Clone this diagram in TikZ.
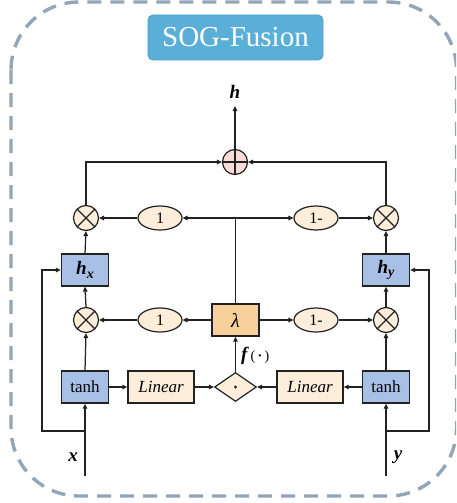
\documentclass[tikz,border=0pt]{standalone}
\usepackage{fontspec}
\setmainfont{Liberation Serif}
\usetikzlibrary{arrows.meta,shapes.geometric}

\definecolor{framegray}{HTML}{94A5B8}
\definecolor{titleblue}{HTML}{5AAFD8}
\definecolor{titleedge}{HTML}{4A9CC6}
\definecolor{cream}{HTML}{FCEEDA}
\definecolor{lambdaorange}{HTML}{F8D099}
\definecolor{boxblue}{HTML}{A8C0E6}
\definecolor{pluspink}{HTML}{F9DDD6}
\definecolor{edgedark}{HTML}{222222}

\tikzset{
  conn/.style={line width=1.25pt, draw=edgedark},
  arr/.style={conn, -{Triangle[length=5pt,width=4.5pt]}},
  bluebox/.style={draw=edgedark, line width=1.3pt, fill=boxblue, minimum width=47pt, minimum height=32pt, inner sep=0pt},
  linbox/.style={draw=edgedark, line width=1.3pt, fill=cream, minimum width=66pt, minimum height=32pt, inner sep=0pt, font=\fontsize{17}{17}\selectfont\itshape},
  onebubble/.style={ellipse, draw=edgedark, line width=1.2pt, fill=cream, minimum width=44pt, minimum height=24pt, inner sep=0pt, font=\fontsize{16}{16}\selectfont},
  timesop/.style={circle, draw=edgedark, line width=1.2pt, fill=cream, minimum size=25pt, inner sep=0pt,
    path picture={\draw[line width=1.1pt, edgedark] (path picture bounding box.north west) -- (path picture bounding box.south east)
      (path picture bounding box.north east) -- (path picture bounding box.south west);}},
  plusop/.style={circle, draw=edgedark, line width=1.2pt, fill=pluspink, minimum size=25pt, inner sep=0pt,
    path picture={\draw[line width=1.1pt, edgedark] (path picture bounding box.north) -- (path picture bounding box.south)
      (path picture bounding box.east) -- (path picture bounding box.west);}},
  varlabel/.style={font=\fontsize{19}{19}\selectfont\bfseries\itshape, inner sep=0pt}
}

\begin{document}
\begin{tikzpicture}[x=1pt, y=-1pt]
\useasboundingbox (0,0) rectangle (456,503);

% dashed outer frame
\begin{scope}
\clip (0,0) rectangle (456,503);
\draw[framegray, line width=3.4pt, dash pattern=on 14pt off 9pt, rounded corners=68pt]
  (11,2) rectangle (456.5,496);
\end{scope}

% title
\node[draw=titleedge, line width=0.8pt, fill=titleblue, rounded corners=5pt, minimum width=175pt, minimum height=45pt,
      text=white, font=\fontsize{29}{29}\selectfont] (title) at (235.5,37.5) {SOG-Fusion};

% top merge
\node[varlabel] (hlab) at (235,92) {h};
\coordinate (hend) at (235,106);
\node[plusop] (plus) at (235,162) {};

% upper gate row
\node[timesop] (topL) at (86,218) {};
\node[timesop] (topR) at (386,218) {};
\node[onebubble] (e1t) at (160,218) {1};
\node[onebubble] (e2t) at (316,218) {1-};
\coordinate (split) at (235.5,218);

% hidden states
\node[bluebox] (hx) at (85,270) {\fontsize{19}{19}\selectfont\bfseries\itshape h\raisebox{-3.5pt}{\fontsize{14}{14}\selectfont x}};
\node[bluebox] (hy) at (386,270) {\fontsize{19}{19}\selectfont\bfseries\itshape h\raisebox{-3.5pt}{\fontsize{14}{14}\selectfont y}};

% lower gate row
\node[timesop] (botL) at (86,320) {};
\node[timesop] (botR) at (386,320) {};
\node[onebubble] (e1b) at (160,320) {1};
\node[onebubble] (e2b) at (316,320) {1-};
\node[draw=edgedark, line width=1.3pt, fill=lambdaorange, minimum width=47pt, minimum height=32pt, inner sep=0pt,
      font=\fontsize{20}{20}\selectfont\itshape] (lam) at (235.5,320) {λ};

% bottom row
\node[bluebox, font=\fontsize{17}{17}\selectfont] (tanhL) at (85,387) {tanh};
\node[bluebox, font=\fontsize{17}{17}\selectfont] (tanhR) at (386,387) {tanh};
\node[linbox] (linL) at (161,387) {Linear};
\node[linbox] (linR) at (310,387) {Linear};
\node[diamond, draw=edgedark, line width=1.2pt, fill=cream, minimum width=42pt, minimum height=29pt, inner sep=0pt] (dot) at (235.5,387) {};
\fill[edgedark] (dot.center) circle (1.6pt);
\node[inner sep=0pt, anchor=west] (flab) at (241,356) {\fontsize{19}{19}\selectfont\bfseries\itshape f\,\normalfont\fontsize{14}{14}\selectfont(\,\textbf{·}\,)};

% inputs
\node[varlabel] (xlab) at (73,457) {x};
\node[varlabel] (ylab) at (398,457) {y};
\coordinate (xin) at (85,476);
\coordinate (yin) at (386,476);
\coordinate (xbr) at (85,431);
\coordinate (ybr) at (386,431);
\coordinate (xside) at (42,431);
\coordinate (yside) at (429,431);

% input paths
\draw[arr] (xin) -- (tanhL.south);
\draw[arr] (yin) -- (tanhR.south);
\draw[arr] (xbr) -- (xside) |- (hx.west);
\draw[arr] (ybr) -- (yside) |- (hy.east);

% bottom row flow
\draw[arr] (tanhL) -- (linL);
\draw[arr] (linL) -- (dot);
\draw[arr] (tanhR) -- (linR);
\draw[arr] (linR) -- (dot);
\draw[arr] (dot.north) -- (lam.south);

\draw[arr] (tanhL.north) -- (botL.south);
\draw[arr] (tanhR.north) -- (botR.south);

% lower gates
\draw[arr] (lam) -- (e1b);
\draw[arr] (e1b) -- (botL);
\draw[arr] (lam) -- (e2b);
\draw[arr] (e2b) -- (botR);

\draw[arr] (botL.north) -- (hx.south);
\draw[arr] (botR.north) -- (hy.south);
\draw[arr] (hx.north) -- (topL.south);
\draw[arr] (hy.north) -- (topR.south);

% upper gates
\draw[conn] (lam.north) -- (split);
\draw[arr] (split) -- (e1t.east);
\draw[arr] (split) -- (e2t.west);
\draw[arr] (e1t) -- (topL);
\draw[arr] (e2t) -- (topR);

% merge
\draw[arr] (topL.north) |- (plus.west);
\draw[arr] (topR.north) |- (plus.east);
\draw[arr] (plus.north) -- (hend);
\end{tikzpicture}
\end{document}
